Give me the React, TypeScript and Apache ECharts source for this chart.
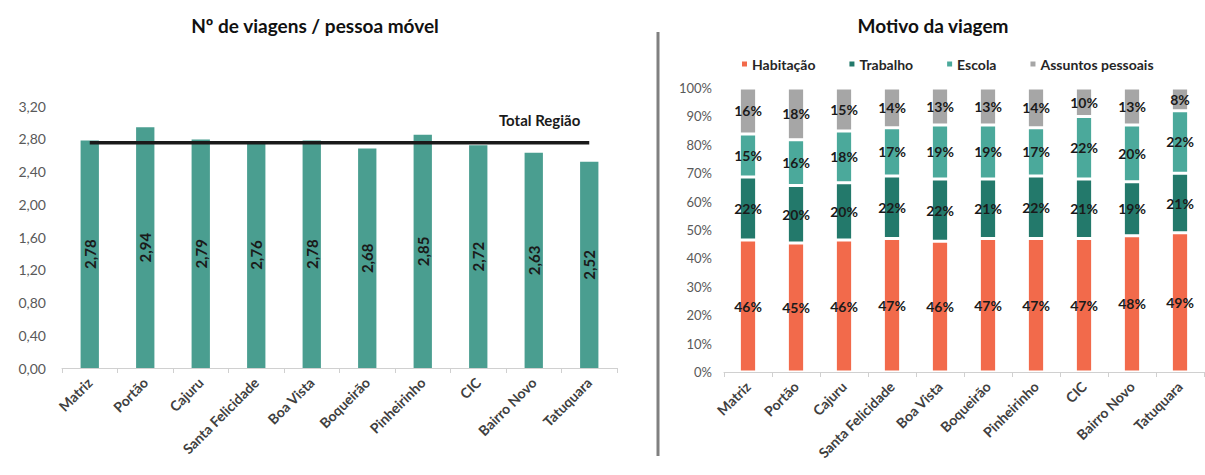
import React, { useEffect, useRef } from 'react';
import * as echarts from 'echarts';

const categories = ['Matriz', 'Portão', 'Cajuru', 'Santa Felicidade', 'Boa Vista', 'Boqueirão', 'Pinheirinho', 'CIC', 'Bairro Novo', 'Tatuquara'];
const tripsPerPerson = [2.78, 2.94, 2.79, 2.76, 2.78, 2.68, 2.85, 2.72, 2.63, 2.52];
const totalRegion = 2.75;
const habitacao = [46, 45, 46, 47, 46, 47, 47, 47, 48, 49];
const trabalho = [22, 20, 20, 22, 22, 21, 22, 21, 19, 21];
const escola = [15, 16, 18, 17, 19, 19, 17, 22, 20, 22];
const assuntos = [16, 18, 15, 14, 13, 13, 14, 10, 13, 8];
const motivoNames = ['Habitação', 'Trabalho', 'Escola', 'Assuntos pessoais'];
const motivoColors = ['#F26A4B', '#23796B', '#4BA99B', '#A6A6A6'];

const FONT = 'Lato, "Open Sans", sans-serif';

export default function App() {
  const ref = useRef<HTMLDivElement>(null);
  useEffect(() => {
    document.body.style.margin = '0';
    const chart = echarts.init(ref.current!, null, { renderer: 'svg' });
    const motivo = [habitacao, trabalho, escola, assuntos];
    const sums = categories.map((_, i) => motivo.reduce((s, arr) => s + arr[i], 0));
    const fmt2 = (v: number) => v.toFixed(2).replace('.', ',');
    const axisLabelX = {
      rotate: 45,
      fontFamily: FONT,
      fontWeight: 'bold' as const,
      fontSize: 14,
      color: '#404040',
      interval: 0,
      margin: 12,
    };
    chart.setOption({
      animation: false,
      textStyle: { fontFamily: FONT },
      title: [
        {
          text: 'Nº de viagens / pessoa móvel',
          left: 310,
          top: 11,
          textAlign: 'center',
          textStyle: { fontFamily: FONT, fontSize: 19, fontWeight: 'bold', color: '#111' },
        },
        {
          text: 'Motivo da viagem',
          left: 928,
          top: 11,
          textAlign: 'center',
          textStyle: { fontFamily: FONT, fontSize: 19, fontWeight: 'bold', color: '#111' },
        },
      ],
      legend: {
        data: motivoNames,
        left: 735,
        top: 52,
        itemWidth: 7,
        itemHeight: 7,
        itemGap: 32,
        icon: 'rect',
        textStyle: { fontFamily: FONT, fontSize: 14, fontWeight: 'bold', color: '#262626', padding: [0, 0, 0, -1] },
      },
      graphic: [
        {
          type: 'line',
          shape: { x1: 658, y1: 32, x2: 658, y2: 456 },
          style: { stroke: '#808080', lineWidth: 3 },
        },
      ],
      grid: [
        { left: 62, width: 555, top: 106, bottom: 107 },
        { left: 724, width: 480, top: 88, bottom: 103 },
      ],
      xAxis: [
        {
          type: 'category',
          gridIndex: 0,
          data: categories,
          axisLine: { lineStyle: { color: '#d0d0d0' } },
          axisTick: { show: true, length: 5, lineStyle: { color: '#d0d0d0' } },
          axisLabel: axisLabelX,
        },
        {
          type: 'category',
          gridIndex: 1,
          data: categories,
          axisLine: { lineStyle: { color: '#d0d0d0' } },
          axisTick: { show: true, length: 5, lineStyle: { color: '#d0d0d0' } },
          axisLabel: axisLabelX,
        },
      ],
      yAxis: [
        {
          type: 'value',
          gridIndex: 0,
          min: 0,
          max: 3.2,
          interval: 0.4,
          splitLine: { show: false },
          axisLine: { show: false },
          axisLabel: { formatter: fmt2, fontFamily: FONT, fontSize: 14, color: '#595959', margin: 16 },
        },
        {
          type: 'value',
          gridIndex: 1,
          min: 0,
          max: 100,
          interval: 10,
          splitLine: { show: false },
          axisLine: { show: false },
          axisLabel: { formatter: '{value}%', fontFamily: FONT, fontSize: 13, color: '#595959', margin: 12 },
        },
      ],
      series: [
        {
          type: 'bar',
          name: 'viagens',
          xAxisIndex: 0,
          yAxisIndex: 0,
          data: tripsPerPerson,
          barWidth: '33%',
          itemStyle: { color: '#4A9E90' },
          label: {
            show: true,
            position: 'inside',
            rotate: 90,
            formatter: (p: any) => fmt2(p.value),
            fontFamily: FONT,
            fontWeight: 'bold',
            fontSize: 15,
            color: '#1a1a1a',
          },
        },
        {
          type: 'line',
          name: 'Total Região',
          xAxisIndex: 0,
          yAxisIndex: 0,
          data: categories.map(() => totalRegion),
          symbol: 'none',
          lineStyle: { color: '#1a1a1a', width: 3.5 },
          z: 5,
          markPoint: {
            symbol: 'circle',
            symbolSize: 0,
            data: [{ coord: [categories.length - 1, totalRegion], value: 'Total Região' }],
            label: {
              show: true,
              position: 'top',
              align: 'right',
              offset: [-9, -10],
              formatter: 'Total Região',
              fontFamily: FONT,
              fontWeight: 'bold',
              fontSize: 15,
              color: '#1a1a1a',
            },
          },
        },
        ...motivo.map((arr, k) => ({
          type: 'bar',
          name: motivoNames[k],
          xAxisIndex: 1,
          yAxisIndex: 1,
          stack: 'motivo',
          barWidth: '36%',
          data: arr.map((v, i) => (v / sums[i]) * 100),
          itemStyle: { color: motivoColors[k], borderColor: '#fff', borderWidth: 1.5 },
          label: {
            show: true,
            position: 'inside',
            formatter: (p: any) => arr[p.dataIndex] + '%',
            fontFamily: FONT,
            fontWeight: 'bold',
            fontSize: 14,
            color: '#1a1a1a',
          },
        })),
      ],
    });
    return () => chart.dispose();
  }, []);
  return <div ref={ref} style={{ width: 1205, height: 475 }} />;
}
